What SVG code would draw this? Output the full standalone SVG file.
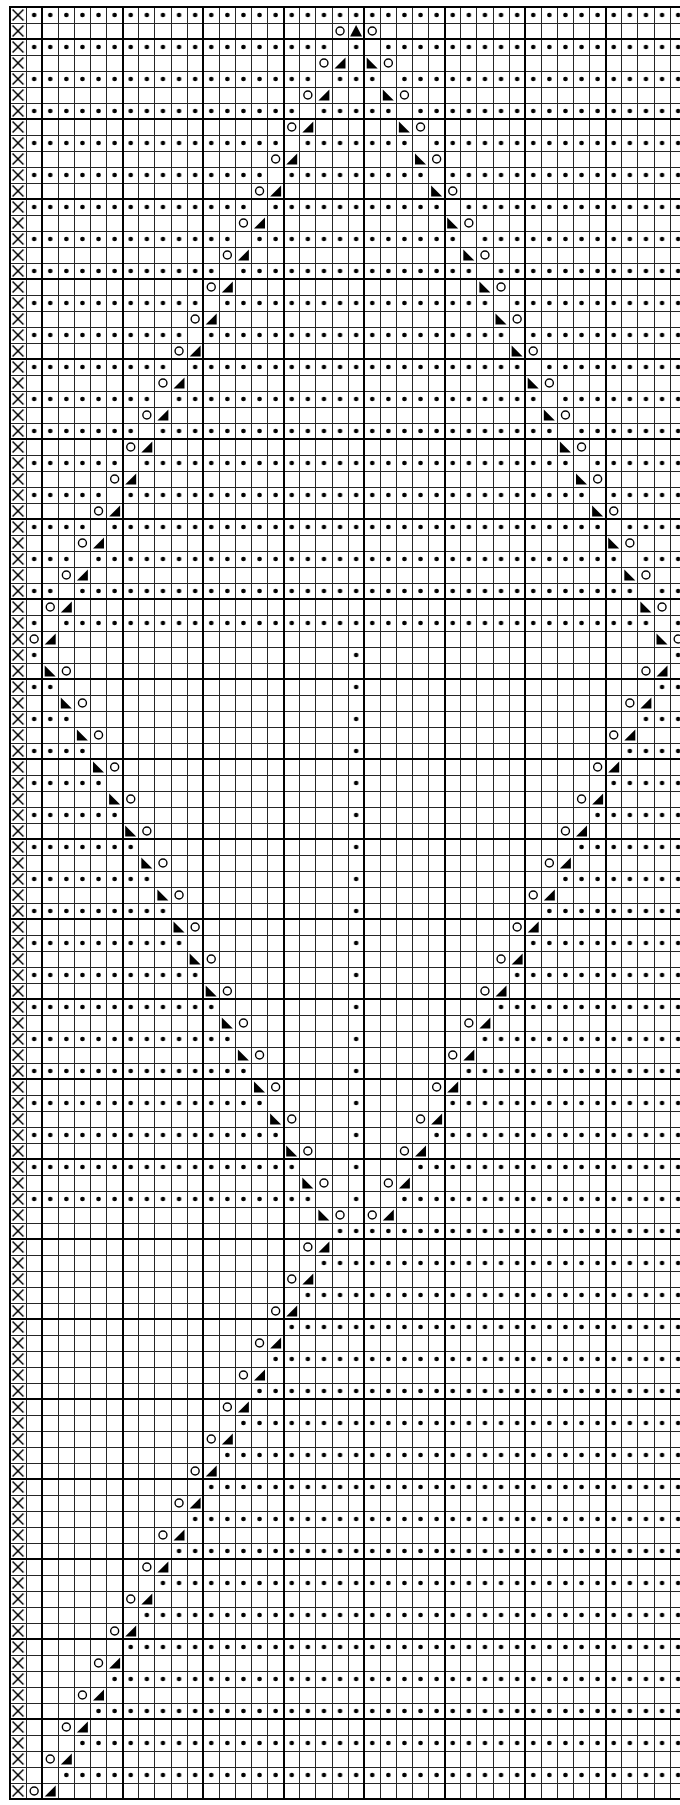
<svg xmlns="http://www.w3.org/2000/svg" width="680" height="1805" viewBox="0 0 680 1805">
<style>
.thin{stroke:#262626;stroke-width:1;fill:none;shape-rendering:crispEdges}
.thick{stroke:#000;stroke-width:2;fill:none;shape-rendering:crispEdges}
</style>
<defs>
<pattern id="dots" patternUnits="userSpaceOnUse" x="10" y="7" width="16.1" height="32">
<circle cx="8.05" cy="8" r="2.3" fill="#000"/>
</pattern>
<pattern id="xp" patternUnits="userSpaceOnUse" x="10" y="7" width="16.1" height="16">
<path d="M2.5 2.5L13.5 13.5M13.5 2.5L2.5 13.5" stroke="#000" stroke-width="1.5" fill="none"/>
</pattern>
<circle id="o" cx="8.05" cy="8" r="4" fill="none" stroke="#000" stroke-width="1.4"/>
<path id="k" d="M2.5 13.5H13.5V2.5Z" fill="#000"/>
<path id="s" d="M2.5 2.5V13.5H13.5Z" fill="#000"/>
<path id="t" d="M2 13.5H14L8 2Z" fill="#000"/>
</defs>
<rect width="680" height="1805" fill="#fff"/>
<g id="purl" fill="url(#dots)">
<rect x="26.1" y="7" width="660" height="16"/>
<rect x="26.1" y="39" width="305.9" height="16"/><rect x="348.1" y="39" width="16.1" height="16"/><rect x="380.3" y="39" width="305.9" height="16"/>
<rect x="26.1" y="71" width="289.8" height="16"/><rect x="332" y="71" width="48.3" height="16"/><rect x="396.4" y="71" width="289.8" height="16"/>
<rect x="26.1" y="103" width="273.7" height="16"/><rect x="315.9" y="103" width="80.5" height="16"/><rect x="412.5" y="103" width="273.7" height="16"/>
<rect x="26.1" y="135" width="257.6" height="16"/><rect x="299.8" y="135" width="112.7" height="16"/><rect x="428.6" y="135" width="257.6" height="16"/>
<rect x="26.1" y="167" width="241.5" height="16"/><rect x="283.7" y="167" width="144.9" height="16"/><rect x="444.7" y="167" width="241.5" height="16"/>
<rect x="26.1" y="199" width="225.4" height="16"/><rect x="267.6" y="199" width="177.1" height="16"/><rect x="460.8" y="199" width="225.4" height="16"/>
<rect x="26.1" y="231" width="209.3" height="16"/><rect x="251.5" y="231" width="209.3" height="16"/><rect x="476.9" y="231" width="209.3" height="16"/>
<rect x="26.1" y="263" width="193.2" height="16"/><rect x="235.4" y="263" width="241.5" height="16"/><rect x="493" y="263" width="193.2" height="16"/>
<rect x="26.1" y="295" width="177.1" height="16"/><rect x="219.3" y="295" width="273.7" height="16"/><rect x="509.1" y="295" width="177.1" height="16"/>
<rect x="26.1" y="327" width="161" height="16"/><rect x="203.2" y="327" width="305.9" height="16"/><rect x="525.2" y="327" width="161" height="16"/>
<rect x="26.1" y="359" width="144.9" height="16"/><rect x="187.1" y="359" width="338.1" height="16"/><rect x="541.3" y="359" width="144.9" height="16"/>
<rect x="26.1" y="391" width="128.8" height="16"/><rect x="171" y="391" width="370.3" height="16"/><rect x="557.4" y="391" width="128.8" height="16"/>
<rect x="26.1" y="423" width="112.7" height="16"/><rect x="154.9" y="423" width="402.5" height="16"/><rect x="573.5" y="423" width="112.7" height="16"/>
<rect x="26.1" y="455" width="96.6" height="16"/><rect x="138.8" y="455" width="434.7" height="16"/><rect x="589.6" y="455" width="96.6" height="16"/>
<rect x="26.1" y="487" width="80.5" height="16"/><rect x="122.7" y="487" width="466.9" height="16"/><rect x="605.7" y="487" width="80.5" height="16"/>
<rect x="26.1" y="519" width="64.4" height="16"/><rect x="106.6" y="519" width="499.1" height="16"/><rect x="621.8" y="519" width="64.4" height="16"/>
<rect x="26.1" y="551" width="48.3" height="16"/><rect x="90.5" y="551" width="531.3" height="16"/><rect x="637.9" y="551" width="48.3" height="16"/>
<rect x="26.1" y="583" width="32.2" height="16"/><rect x="74.4" y="583" width="563.5" height="16"/><rect x="654" y="583" width="32.2" height="16"/>
<rect x="26.1" y="615" width="16.1" height="16"/><rect x="58.3" y="615" width="595.7" height="16"/><rect x="670.1" y="615" width="16.1" height="16"/>
<rect x="348.1" y="647" width="16.1" height="560"/>
<rect x="26.1" y="647" width="16.1" height="16"/><rect x="670.1" y="647" width="16.1" height="16"/>
<rect x="26.1" y="679" width="32.2" height="16"/><rect x="654" y="679" width="32.2" height="16"/>
<rect x="26.1" y="711" width="48.3" height="16"/><rect x="637.9" y="711" width="48.3" height="16"/>
<rect x="26.1" y="743" width="64.4" height="16"/><rect x="621.8" y="743" width="64.4" height="16"/>
<rect x="26.1" y="775" width="80.5" height="16"/><rect x="605.7" y="775" width="80.5" height="16"/>
<rect x="26.1" y="807" width="96.6" height="16"/><rect x="589.6" y="807" width="96.6" height="16"/>
<rect x="26.1" y="839" width="112.7" height="16"/><rect x="573.5" y="839" width="112.7" height="16"/>
<rect x="26.1" y="871" width="128.8" height="16"/><rect x="557.4" y="871" width="128.8" height="16"/>
<rect x="26.1" y="903" width="144.9" height="16"/><rect x="541.3" y="903" width="144.9" height="16"/>
<rect x="26.1" y="935" width="161" height="16"/><rect x="525.2" y="935" width="161" height="16"/>
<rect x="26.1" y="967" width="177.1" height="16"/><rect x="509.1" y="967" width="177.1" height="16"/>
<rect x="26.1" y="999" width="193.2" height="16"/><rect x="493" y="999" width="193.2" height="16"/>
<rect x="26.1" y="1031" width="209.3" height="16"/><rect x="476.9" y="1031" width="209.3" height="16"/>
<rect x="26.1" y="1063" width="225.4" height="16"/><rect x="460.8" y="1063" width="225.4" height="16"/>
<rect x="26.1" y="1095" width="241.5" height="16"/><rect x="444.7" y="1095" width="241.5" height="16"/>
<rect x="26.1" y="1127" width="257.6" height="16"/><rect x="428.6" y="1127" width="257.6" height="16"/>
<rect x="26.1" y="1159" width="273.7" height="16"/><rect x="412.5" y="1159" width="273.7" height="16"/>
<rect x="26.1" y="1191" width="289.8" height="16"/><rect x="396.4" y="1191" width="289.8" height="16"/>
<rect x="332" y="1223" width="354.2" height="16"/>
<rect x="315.9" y="1255" width="370.3" height="16"/>
<rect x="299.8" y="1287" width="386.4" height="16"/>
<rect x="283.7" y="1319" width="402.5" height="16"/>
<rect x="267.6" y="1351" width="418.6" height="16"/>
<rect x="251.5" y="1383" width="434.7" height="16"/>
<rect x="235.4" y="1415" width="450.8" height="16"/>
<rect x="219.3" y="1447" width="466.9" height="16"/>
<rect x="203.2" y="1479" width="483" height="16"/>
<rect x="187.1" y="1511" width="499.1" height="16"/>
<rect x="171" y="1543" width="515.2" height="16"/>
<rect x="154.9" y="1575" width="531.3" height="16"/>
<rect x="138.8" y="1607" width="547.4" height="16"/>
<rect x="122.7" y="1639" width="563.5" height="16"/>
<rect x="106.6" y="1671" width="579.6" height="16"/>
<rect x="90.5" y="1703" width="595.7" height="16"/>
<rect x="74.4" y="1735" width="611.8" height="16"/>
<rect x="58.3" y="1767" width="627.9" height="16"/>
</g>
<g id="selvage">
<rect x="10" y="7" width="16.1" height="1792" fill="url(#xp)"/>
</g>
<g id="grid">
<path class="thin" d="M26.1 7V1799M58.3 7V1799M74.4 7V1799M90.5 7V1799M106.6 7V1799M138.8 7V1799M154.9 7V1799M171 7V1799M187.1 7V1799M219.3 7V1799M235.4 7V1799M251.5 7V1799M267.6 7V1799M299.8 7V1799M315.9 7V1799M332 7V1799M348.1 7V1799M380.3 7V1799M396.4 7V1799M412.5 7V1799M428.6 7V1799M460.8 7V1799M476.9 7V1799M493 7V1799M509.1 7V1799M541.3 7V1799M557.4 7V1799M573.5 7V1799M589.6 7V1799M621.8 7V1799M637.9 7V1799M654 7V1799M670.1 7V1799"/>
<path class="thin" d="M10 23H680M10 55H680M10 71H680M10 87H680M10 103H680M10 135H680M10 151H680M10 167H680M10 183H680M10 215H680M10 231H680M10 247H680M10 263H680M10 295H680M10 311H680M10 327H680M10 343H680M10 375H680M10 391H680M10 407H680M10 423H680M10 455H680M10 471H680M10 487H680M10 503H680M10 535H680M10 551H680M10 567H680M10 583H680M10 615H680M10 631H680M10 647H680M10 663H680M10 695H680M10 711H680M10 727H680M10 743H680M10 775H680M10 791H680M10 807H680M10 823H680M10 855H680M10 871H680M10 887H680M10 903H680M10 935H680M10 951H680M10 967H680M10 983H680M10 1015H680M10 1031H680M10 1047H680M10 1063H680M10 1095H680M10 1111H680M10 1127H680M10 1143H680M10 1175H680M10 1191H680M10 1207H680M10 1223H680M10 1255H680M10 1271H680M10 1287H680M10 1303H680M10 1335H680M10 1351H680M10 1367H680M10 1383H680M10 1415H680M10 1431H680M10 1447H680M10 1463H680M10 1495H680M10 1511H680M10 1527H680M10 1543H680M10 1575H680M10 1591H680M10 1607H680M10 1623H680M10 1655H680M10 1671H680M10 1687H680M10 1703H680M10 1735H680M10 1751H680M10 1767H680M10 1783H680"/>
<path class="thick" d="M10 6V1800M42.2 7V1799M122.7 7V1799M203.2 7V1799M283.7 7V1799M364.2 7V1799M444.7 7V1799M525.2 7V1799M605.7 7V1799"/>
<path class="thick" d="M10 7H680M10 39H680M10 119H680M10 199H680M10 279H680M10 359H680M10 439H680M10 519H680M10 599H680M10 679H680M10 759H680M10 839H680M10 919H680M10 999H680M10 1079H680M10 1159H680M10 1239H680M10 1319H680M10 1399H680M10 1479H680M10 1559H680M10 1639H680M10 1719H680M10 1799H680"/>
</g>
<g id="yarnovers">
<use href="#o" x="332" y="23"/><use href="#o" x="364.2" y="23"/>
<use href="#o" x="315.9" y="55"/><use href="#o" x="380.3" y="55"/>
<use href="#o" x="299.8" y="87"/><use href="#o" x="396.4" y="87"/>
<use href="#o" x="283.7" y="119"/><use href="#o" x="412.5" y="119"/>
<use href="#o" x="267.6" y="151"/><use href="#o" x="428.6" y="151"/>
<use href="#o" x="251.5" y="183"/><use href="#o" x="444.7" y="183"/>
<use href="#o" x="235.4" y="215"/><use href="#o" x="460.8" y="215"/>
<use href="#o" x="219.3" y="247"/><use href="#o" x="476.9" y="247"/>
<use href="#o" x="203.2" y="279"/><use href="#o" x="493" y="279"/>
<use href="#o" x="187.1" y="311"/><use href="#o" x="509.1" y="311"/>
<use href="#o" x="171" y="343"/><use href="#o" x="525.2" y="343"/>
<use href="#o" x="154.9" y="375"/><use href="#o" x="541.3" y="375"/>
<use href="#o" x="138.8" y="407"/><use href="#o" x="557.4" y="407"/>
<use href="#o" x="122.7" y="439"/><use href="#o" x="573.5" y="439"/>
<use href="#o" x="106.6" y="471"/><use href="#o" x="589.6" y="471"/>
<use href="#o" x="90.5" y="503"/><use href="#o" x="605.7" y="503"/>
<use href="#o" x="74.4" y="535"/><use href="#o" x="621.8" y="535"/>
<use href="#o" x="58.3" y="567"/><use href="#o" x="637.9" y="567"/>
<use href="#o" x="42.2" y="599"/><use href="#o" x="654" y="599"/>
<use href="#o" x="26.1" y="631"/><use href="#o" x="670.1" y="631"/>
<use href="#o" x="58.3" y="663"/><use href="#o" x="637.9" y="663"/>
<use href="#o" x="74.4" y="695"/><use href="#o" x="621.8" y="695"/>
<use href="#o" x="90.5" y="727"/><use href="#o" x="605.7" y="727"/>
<use href="#o" x="106.6" y="759"/><use href="#o" x="589.6" y="759"/>
<use href="#o" x="122.7" y="791"/><use href="#o" x="573.5" y="791"/>
<use href="#o" x="138.8" y="823"/><use href="#o" x="557.4" y="823"/>
<use href="#o" x="154.9" y="855"/><use href="#o" x="541.3" y="855"/>
<use href="#o" x="171" y="887"/><use href="#o" x="525.2" y="887"/>
<use href="#o" x="187.1" y="919"/><use href="#o" x="509.1" y="919"/>
<use href="#o" x="203.2" y="951"/><use href="#o" x="493" y="951"/>
<use href="#o" x="219.3" y="983"/><use href="#o" x="476.9" y="983"/>
<use href="#o" x="235.4" y="1015"/><use href="#o" x="460.8" y="1015"/>
<use href="#o" x="251.5" y="1047"/><use href="#o" x="444.7" y="1047"/>
<use href="#o" x="267.6" y="1079"/><use href="#o" x="428.6" y="1079"/>
<use href="#o" x="283.7" y="1111"/><use href="#o" x="412.5" y="1111"/>
<use href="#o" x="299.8" y="1143"/><use href="#o" x="396.4" y="1143"/>
<use href="#o" x="315.9" y="1175"/><use href="#o" x="380.3" y="1175"/>
<use href="#o" x="332" y="1207"/><use href="#o" x="364.2" y="1207"/>
<use href="#o" x="299.8" y="1239"/><use href="#o" x="283.7" y="1271"/><use href="#o" x="267.6" y="1303"/><use href="#o" x="251.5" y="1335"/><use href="#o" x="235.4" y="1367"/><use href="#o" x="219.3" y="1399"/><use href="#o" x="203.2" y="1431"/><use href="#o" x="187.1" y="1463"/><use href="#o" x="171" y="1495"/><use href="#o" x="154.9" y="1527"/><use href="#o" x="138.8" y="1559"/><use href="#o" x="122.7" y="1591"/><use href="#o" x="106.6" y="1623"/><use href="#o" x="90.5" y="1655"/><use href="#o" x="74.4" y="1687"/><use href="#o" x="58.3" y="1719"/><use href="#o" x="42.2" y="1751"/><use href="#o" x="26.1" y="1783"/>
</g>
<g id="decreases">
<use href="#t" x="348.1" y="23"/>
<use href="#k" x="332" y="55"/><use href="#k" x="315.9" y="87"/><use href="#k" x="299.8" y="119"/><use href="#k" x="283.7" y="151"/><use href="#k" x="267.6" y="183"/><use href="#k" x="251.5" y="215"/><use href="#k" x="235.4" y="247"/><use href="#k" x="219.3" y="279"/><use href="#k" x="203.2" y="311"/><use href="#k" x="187.1" y="343"/><use href="#k" x="171" y="375"/><use href="#k" x="154.9" y="407"/><use href="#k" x="138.8" y="439"/><use href="#k" x="122.7" y="471"/><use href="#k" x="106.6" y="503"/><use href="#k" x="90.5" y="535"/><use href="#k" x="74.4" y="567"/><use href="#k" x="58.3" y="599"/><use href="#k" x="42.2" y="631"/>
<use href="#k" x="654" y="663"/><use href="#k" x="637.9" y="695"/><use href="#k" x="621.8" y="727"/><use href="#k" x="605.7" y="759"/><use href="#k" x="589.6" y="791"/><use href="#k" x="573.5" y="823"/><use href="#k" x="557.4" y="855"/><use href="#k" x="541.3" y="887"/><use href="#k" x="525.2" y="919"/><use href="#k" x="509.1" y="951"/><use href="#k" x="493" y="983"/><use href="#k" x="476.9" y="1015"/><use href="#k" x="460.8" y="1047"/><use href="#k" x="444.7" y="1079"/><use href="#k" x="428.6" y="1111"/><use href="#k" x="412.5" y="1143"/><use href="#k" x="396.4" y="1175"/><use href="#k" x="380.3" y="1207"/>
<use href="#k" x="315.9" y="1239"/><use href="#k" x="299.8" y="1271"/><use href="#k" x="283.7" y="1303"/><use href="#k" x="267.6" y="1335"/><use href="#k" x="251.5" y="1367"/><use href="#k" x="235.4" y="1399"/><use href="#k" x="219.3" y="1431"/><use href="#k" x="203.2" y="1463"/><use href="#k" x="187.1" y="1495"/><use href="#k" x="171" y="1527"/><use href="#k" x="154.9" y="1559"/><use href="#k" x="138.8" y="1591"/><use href="#k" x="122.7" y="1623"/><use href="#k" x="106.6" y="1655"/><use href="#k" x="90.5" y="1687"/><use href="#k" x="74.4" y="1719"/><use href="#k" x="58.3" y="1751"/><use href="#k" x="42.2" y="1783"/>
<use href="#s" x="364.2" y="55"/><use href="#s" x="380.3" y="87"/><use href="#s" x="396.4" y="119"/><use href="#s" x="412.5" y="151"/><use href="#s" x="428.6" y="183"/><use href="#s" x="444.7" y="215"/><use href="#s" x="460.8" y="247"/><use href="#s" x="476.9" y="279"/><use href="#s" x="493" y="311"/><use href="#s" x="509.1" y="343"/><use href="#s" x="525.2" y="375"/><use href="#s" x="541.3" y="407"/><use href="#s" x="557.4" y="439"/><use href="#s" x="573.5" y="471"/><use href="#s" x="589.6" y="503"/><use href="#s" x="605.7" y="535"/><use href="#s" x="621.8" y="567"/><use href="#s" x="637.9" y="599"/><use href="#s" x="654" y="631"/>
<use href="#s" x="42.2" y="663"/><use href="#s" x="58.3" y="695"/><use href="#s" x="74.4" y="727"/><use href="#s" x="90.5" y="759"/><use href="#s" x="106.6" y="791"/><use href="#s" x="122.7" y="823"/><use href="#s" x="138.8" y="855"/><use href="#s" x="154.9" y="887"/><use href="#s" x="171" y="919"/><use href="#s" x="187.1" y="951"/><use href="#s" x="203.2" y="983"/><use href="#s" x="219.3" y="1015"/><use href="#s" x="235.4" y="1047"/><use href="#s" x="251.5" y="1079"/><use href="#s" x="267.6" y="1111"/><use href="#s" x="283.7" y="1143"/><use href="#s" x="299.8" y="1175"/><use href="#s" x="315.9" y="1207"/>
</g>
</svg>
